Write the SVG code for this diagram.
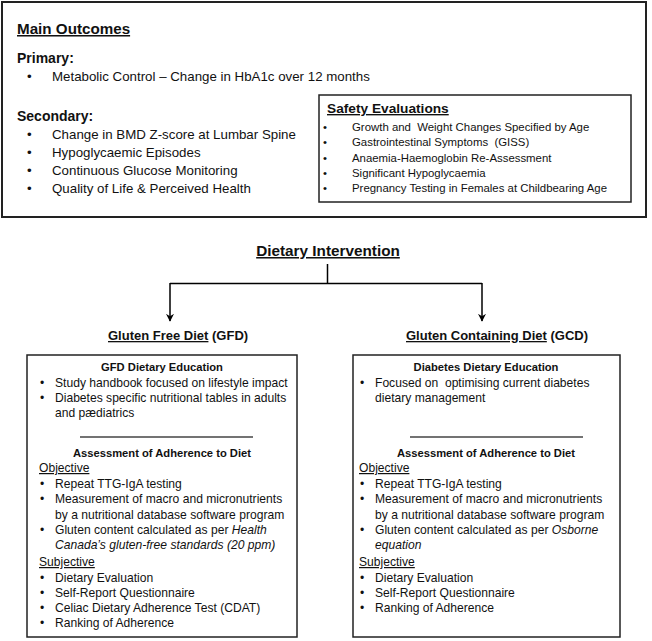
<svg xmlns="http://www.w3.org/2000/svg" width="652" height="641" viewBox="0 0 652 641">
<defs>
<marker id="arr" viewBox="0 0 10 10" refX="9" refY="5" markerWidth="8" markerHeight="8" orient="auto" markerUnits="userSpaceOnUse">
<path d="M0,0 L10,5 L0,10 L3,5 z" fill="#000"/>
</marker>
</defs>
<style>
text{font-family:"Liberation Sans",Arial,sans-serif;fill:#111;white-space:pre;}
.h1{font-size:15.2px;font-weight:bold;text-decoration:underline;}
.h2{font-size:14px;font-weight:bold;}
.t1{font-size:13.3px;}
.sh{font-size:13.7px;font-weight:bold;text-decoration:underline;}
.t2{font-size:11.4px;}
.di{font-size:15.3px;font-weight:bold;}
.arm{font-size:13px;font-weight:bold;}
.bh{font-size:11.2px;font-weight:bold;}
.t3{font-size:12.1px;}
.u{text-decoration:underline;}
.i{font-style:italic;}
.mid{text-anchor:middle;}
.box{fill:#fff;stroke:#222;stroke-width:2;}
.box2{fill:#fff;stroke:#222;stroke-width:1.5;}
.sep{stroke:#444;stroke-width:1.5;}
.conn{fill:none;stroke:#000;stroke-width:1.5;}
</style>
<rect width="652" height="641" fill="#fff"/>

<g id="main-outcomes">
<rect class="box" x="2" y="2" width="644" height="215"/>
<text class="h1" x="17" y="34">Main Outcomes</text>
<text class="h2" x="17" y="63">Primary:</text>
<text class="t1" x="27" y="81">•</text>
<text class="t1" x="52" y="81">Metabolic Control – Change in HbA1c over 12 months</text>
<text class="h2" x="17" y="121">Secondary:</text>
<text class="t1" x="27" y="139">•</text><text class="t1" x="52" y="139">Change in BMD Z-score at Lumbar Spine</text>
<text class="t1" x="27" y="157">•</text><text class="t1" x="52" y="157">Hypoglycaemic Episodes</text>
<text class="t1" x="27" y="175">•</text><text class="t1" x="52" y="175">Continuous Glucose Monitoring</text>
<text class="t1" x="27" y="193">•</text><text class="t1" x="52" y="193">Quality of Life &amp; Perceived Health</text>
</g>

<g id="safety-evaluations">
<rect class="box2" x="319" y="95" width="312" height="107"/>
<text class="sh" x="327" y="113">Safety Evaluations</text>
<text class="t2" x="323" y="131">•</text><text class="t2" x="352" y="131">Growth and  Weight Changes Specified by Age</text>
<text class="t2" x="323" y="146">•</text><text class="t2" x="352" y="146">Gastrointestinal Symptoms  (GISS)</text>
<text class="t2" x="323" y="162">•</text><text class="t2" x="352" y="162">Anaemia-Haemoglobin Re-Assessment</text>
<text class="t2" x="323" y="177">•</text><text class="t2" x="352" y="177">Significant Hypoglycaemia</text>
<text class="t2" x="323" y="192">•</text><text class="t2" x="352" y="192">Pregnancy Testing in Females at Childbearing Age</text>
</g>

<g id="dietary-intervention">
<text class="di u mid" x="328" y="256">Dietary Intervention</text>
</g>

<g id="connectors">
<path class="conn" d="M327.5,264 V283.5"/>
<path class="conn" d="M170,283.5 H482"/>
<path class="conn" d="M170,283 V321" marker-end="url(#arr)"/>
<path class="conn" d="M482,283 V321" marker-end="url(#arr)"/>
</g>

<g id="gfd-label">
<text class="arm" x="108" y="340"><tspan class="u">Gluten Free Diet</tspan> (GFD)</text>
</g>
<g id="gcd-label">
<text class="arm" x="406" y="340"><tspan class="u">Gluten Containing Diet</tspan> (GCD)</text>
</g>

<g id="gfd-box">
<rect class="box2" x="27" y="355" width="270" height="282"/>
<text class="bh mid" x="162" y="371">GFD Dietary Education</text>
<text class="t3" x="40" y="387">•</text><text class="t3" x="55" y="387">Study handbook focused on lifestyle impact</text>
<text class="t3" x="40" y="402">•</text><text class="t3" x="55" y="402">Diabetes specific nutritional tables in adults</text>
<text class="t3" x="55" y="417">and pædiatrics</text>
<line class="sep" x1="80" y1="437" x2="253" y2="437"/>
<text class="bh mid" x="162" y="457">Assessment of Adherence to Diet</text>
<text class="t3 u" x="39" y="472">Objective</text>
<text class="t3" x="40" y="488">•</text><text class="t3" x="55" y="488">Repeat TTG-IgA testing</text>
<text class="t3" x="40" y="503">•</text><text class="t3" x="55" y="503">Measurement of macro and micronutrients</text>
<text class="t3" x="55" y="519">by a nutritional database software program</text>
<text class="t3" x="40" y="534">•</text><text class="t3" x="55" y="534">Gluten content calculated as per <tspan class="i">Health</tspan></text>
<text class="t3 i" x="55" y="549">Canada’s gluten-free standards (20 ppm)</text>
<text class="t3 u" x="39" y="566">Subjective</text>
<text class="t3" x="40" y="582">•</text><text class="t3" x="55" y="582">Dietary Evaluation</text>
<text class="t3" x="40" y="597">•</text><text class="t3" x="55" y="597">Self-Report Questionnaire</text>
<text class="t3" x="40" y="612">•</text><text class="t3" x="55" y="612">Celiac Dietary Adherence Test (CDAT)</text>
<text class="t3" x="40" y="627">•</text><text class="t3" x="55" y="627">Ranking of Adherence</text>
</g>

<g id="gcd-box">
<rect class="box2" x="353" y="355" width="267" height="282"/>
<text class="bh mid" x="486" y="371">Diabetes Dietary Education</text>
<text class="t3" x="360" y="387">•</text><text class="t3" x="375" y="387">Focused on  optimising current diabetes</text>
<text class="t3" x="375" y="402">dietary management</text>
<line class="sep" x1="410" y1="437" x2="583" y2="437"/>
<text class="bh mid" x="486" y="457">Assessment of Adherence to Diet</text>
<text class="t3 u" x="359" y="472">Objective</text>
<text class="t3" x="360" y="488">•</text><text class="t3" x="375" y="488">Repeat TTG-IgA testing</text>
<text class="t3" x="360" y="503">•</text><text class="t3" x="375" y="503">Measurement of macro and micronutrients</text>
<text class="t3" x="375" y="519">by a nutritional database software program</text>
<text class="t3" x="360" y="534">•</text><text class="t3" x="375" y="534">Gluten content calculated as per <tspan class="i">Osborne</tspan></text>
<text class="t3 i" x="375" y="549">equation</text>
<text class="t3 u" x="359" y="566">Subjective</text>
<text class="t3" x="360" y="582">•</text><text class="t3" x="375" y="582">Dietary Evaluation</text>
<text class="t3" x="360" y="597">•</text><text class="t3" x="375" y="597">Self-Report Questionnaire</text>
<text class="t3" x="360" y="612">•</text><text class="t3" x="375" y="612">Ranking of Adherence</text>
</g>
</svg>
